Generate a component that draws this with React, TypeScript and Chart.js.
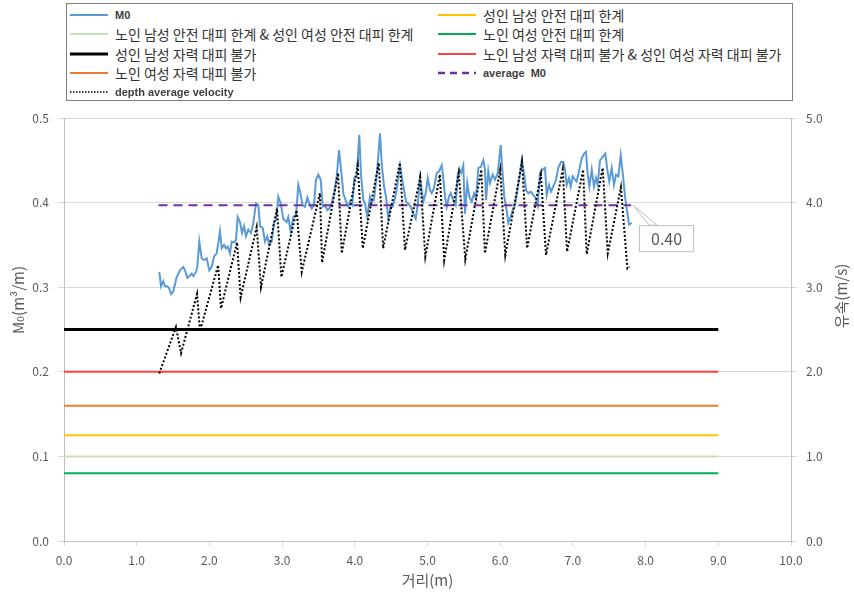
import React, { useEffect, useRef } from "react";
import { Chart, registerables } from "chart.js";
Chart.register(...registerables);

// ---------- data ----------
const SERIES_NAMES = [
  "M0",
  "성인 남성 안전 대피 한계",
  "노인 남성 안전 대피 한계 & 성인 여성 안전 대피 한계",
  "노인 여성 안전 대피 한계",
  "성인 남성 자력 대피 불가",
  "노인 남성 자력 대피 불가 & 성인 여성 자력 대피 불가",
  "노인 여성 자력 대피 불가",
  "average  M0",
  "depth average velocity",
];

// limit lines (series 1..6)
const LIMIT_VALUES = [0.125, 0.1, 0.08, 0.25, 0.2, 0.16];
const LIMIT_X = [0, 9];

const AVG_M0 = 0.397;
const AVG_X = [1.3, 7.8];

const M0_X = [
  1.311, 1.334, 1.366, 1.389, 1.421, 1.444, 1.472, 1.503, 1.55, 1.596, 1.641, 1.664, 1.696, 1.724, 1.757, 1.779,
  1.816, 1.834, 1.861, 1.894, 1.926, 1.963, 1.999, 2.032, 2.063, 2.1, 2.146, 2.169, 2.201, 2.228, 2.252, 2.283,
  2.307, 2.342, 2.366, 2.389, 2.421, 2.448, 2.476, 2.503, 2.535, 2.572, 2.604, 2.641, 2.673, 2.696, 2.733, 2.765,
  2.796, 2.824, 2.857, 2.889, 2.916, 2.948, 2.981, 3.016, 3.063, 3.085, 3.118, 3.154, 3.191, 3.223, 3.246, 3.283,
  3.315, 3.347, 3.374, 3.407, 3.439, 3.466, 3.498, 3.531, 3.558, 3.59, 3.622, 3.649, 3.682, 3.718, 3.751, 3.783,
  3.82, 3.842, 3.879, 3.911, 3.934, 3.966, 3.993, 4.026, 4.062, 4.085, 4.117, 4.14, 4.172, 4.209, 4.232, 4.264,
  4.292, 4.315, 4.347, 4.37, 4.402, 4.429, 4.461, 4.494, 4.521, 4.553, 4.585, 4.622, 4.645, 4.677, 4.704, 4.736,
  4.769, 4.805, 4.838, 4.865, 4.897, 4.92, 4.942, 4.975, 5.003, 5.034, 5.058, 5.089, 5.127, 5.158, 5.195, 5.217,
  5.241, 5.264, 5.296, 5.319, 5.355, 5.388, 5.415, 5.437, 5.461, 5.492, 5.516, 5.547, 5.575, 5.608, 5.64, 5.667,
  5.699, 5.732, 5.768, 5.791, 5.805, 5.836, 5.86, 5.897, 5.928, 5.966, 6.007, 6.034, 6.056, 6.089, 6.111, 6.144,
  6.172, 6.204, 6.227, 6.249, 6.272, 6.296, 6.327, 6.355, 6.387, 6.42, 6.455, 6.492, 6.516, 6.547, 6.585, 6.616,
  6.64, 6.671, 6.699, 6.73, 6.768, 6.799, 6.836, 6.868, 6.891, 6.915, 6.946, 6.97, 6.997, 7.029, 7.052, 7.088,
  7.121, 7.153, 7.18, 7.204, 7.226, 7.259, 7.29, 7.318, 7.341, 7.373, 7.41, 7.446, 7.473, 7.501, 7.534, 7.565,
  7.593, 7.625, 7.658, 7.685, 7.717, 7.74, 7.772, 7.809,
];
const M0_Y = [
  0.318, 0.301, 0.307, 0.301, 0.301, 0.299, 0.292, 0.295, 0.312, 0.32, 0.324, 0.32, 0.311, 0.313, 0.316, 0.313,
  0.318, 0.324, 0.354, 0.334, 0.332, 0.334, 0.32, 0.324, 0.336, 0.34, 0.366, 0.346, 0.35, 0.346, 0.348, 0.34,
  0.354, 0.353, 0.356, 0.383, 0.377, 0.364, 0.372, 0.36, 0.368, 0.364, 0.376, 0.399, 0.397, 0.372, 0.37, 0.354,
  0.36, 0.35, 0.354, 0.377, 0.379, 0.407, 0.399, 0.381, 0.377, 0.383, 0.366, 0.383, 0.385, 0.421, 0.413, 0.397,
  0.395, 0.406, 0.399, 0.393, 0.397, 0.427, 0.433, 0.427, 0.395, 0.397, 0.391, 0.393, 0.399, 0.413, 0.431, 0.462,
  0.431, 0.411, 0.401, 0.395, 0.401, 0.397, 0.429, 0.431, 0.48, 0.433, 0.403, 0.399, 0.383, 0.407, 0.401, 0.403,
  0.425, 0.446, 0.482, 0.446, 0.419, 0.407, 0.381, 0.395, 0.395, 0.405, 0.421, 0.444, 0.431, 0.415, 0.401, 0.399,
  0.395, 0.387, 0.381, 0.397, 0.429, 0.415, 0.401, 0.411, 0.429, 0.415, 0.411, 0.417, 0.435, 0.437, 0.444, 0.429,
  0.407, 0.395, 0.407, 0.411, 0.403, 0.397, 0.433, 0.439, 0.435, 0.444, 0.387, 0.423, 0.407, 0.401, 0.411, 0.405,
  0.441, 0.442, 0.45, 0.439, 0.403, 0.437, 0.423, 0.433, 0.427, 0.435, 0.468, 0.433, 0.407, 0.391, 0.376, 0.383,
  0.391, 0.397, 0.409, 0.421, 0.435, 0.45, 0.435, 0.415, 0.411, 0.413, 0.409, 0.405, 0.397, 0.435, 0.439, 0.441,
  0.409, 0.421, 0.413, 0.419, 0.427, 0.441, 0.448, 0.448, 0.439, 0.421, 0.429, 0.419, 0.431, 0.427, 0.425, 0.439,
  0.452, 0.458, 0.46, 0.433, 0.419, 0.439, 0.419, 0.429, 0.421, 0.45, 0.454, 0.458, 0.439, 0.425, 0.441, 0.421,
  0.433, 0.431, 0.456, 0.435, 0.407, 0.393, 0.374, 0.376,
];

const VEL_X = [
  1.31, 1.54, 1.61, 1.83, 1.87, 2.12, 2.16, 2.38, 2.43, 2.65, 2.71, 2.93, 2.99, 3.2, 3.27, 3.52, 3.55, 3.77, 3.82,
  4.04, 4.11, 4.33, 4.39, 4.62, 4.69, 4.9, 4.97, 5.17, 5.23, 5.43, 5.52, 5.74, 5.79, 6.0, 6.07, 6.3, 6.37, 6.56,
  6.63, 6.86, 6.92, 7.14, 7.19, 7.41, 7.48, 7.66, 7.75, 7.78,
];
const VEL_Y = [
  1.98, 2.53, 2.22, 2.92, 2.48, 3.26, 2.75, 3.53, 2.88, 3.71, 3.0, 3.93, 3.12, 3.91, 3.18, 4.11, 3.29, 4.35, 3.4,
  4.44, 3.46, 4.47, 3.46, 4.47, 3.44, 4.3, 3.36, 4.33, 3.32, 4.35, 3.33, 4.39, 3.4, 4.39, 3.38, 4.48, 3.46, 4.33,
  3.38, 4.39, 3.42, 4.39, 3.39, 4.41, 3.4, 4.18, 3.22, 3.24,
];

// ---------- styles ----------
const LIMIT_STYLE = [
  { color: "#ffc000", width: 2 },
  { color: "#c5e0b4", width: 2 },
  { color: "#00b050", width: 2 },
  { color: "#000000", width: 3 },
  { color: "#ff4040", width: 2 },
  { color: "#ed7d31", width: 2 },
];
const M0_COLOR = "#5b9bd5";
const AVG_COLOR = "#7030a0";
const VEL_COLOR = "#000000";
const TEXT = "#595959";
const FONT = '"Noto Sans CJK KR", "DejaVu Sans", sans-serif';

const zip = (xs: number[], ys: number[]) => xs.map((x, i) => ({ x, y: ys[i] }));

const overlayPlugin = {
  id: "overlay",
  afterDraw(chart: any) {
    const { ctx, scales } = chart;
    ctx.save();
    ctx.fillStyle = TEXT;
    ctx.font = `15px ${FONT}`;
    ctx.textAlign = "center";
    ctx.textBaseline = "middle";
    // left title
    ctx.save();
    ctx.translate(18, 300);
    ctx.rotate(-Math.PI / 2);
    ctx.fillText("M₀(m³/m)", 0, 0);
    ctx.restore();
    // right title
    ctx.save();
    ctx.translate(841, 296);
    ctx.rotate(-Math.PI / 2);
    ctx.fillText("유속(m/s)", 0, 0);
    ctx.restore();

    // callout for average
    const px = scales.x.getPixelForValue(AVG_X[1]);
    const py = scales.y.getPixelForValue(AVG_M0);
    const bx = px + 8;
    const by = py + 20;
    const bw = 54;
    const bh = 26;
    ctx.strokeStyle = "#bfbfbf";
    ctx.lineWidth = 1;
    ctx.fillStyle = "#ffffff";
    ctx.beginPath();
    ctx.moveTo(px + 2, py);
    ctx.lineTo(bx + 10, by);
    ctx.lineTo(bx + 18, by);
    ctx.closePath();
    ctx.fill();
    ctx.stroke();
    ctx.fillRect(bx, by, bw, bh);
    ctx.strokeRect(bx + 0.5, by + 0.5, bw, bh);
    ctx.fillStyle = TEXT;
    ctx.font = `16px ${FONT}`;
    ctx.fillText(AVG_M0.toFixed(2), bx + bw / 2 + 0.5, by + bh / 2 + 1);
    ctx.restore();
  },
};

function LegendSample({ idx }: { idx: number }) {
  let color = M0_COLOR;
  let width = 2;
  let dash = "";
  if (idx >= 1 && idx <= 6) {
    color = LIMIT_STYLE[idx - 1].color;
    width = LIMIT_STYLE[idx - 1].width;
  } else if (idx === 7) {
    color = AVG_COLOR;
    width = 2.5;
    dash = "7 5";
  } else if (idx === 8) {
    color = VEL_COLOR;
    width = 1.5;
    dash = "1.5 1.5";
  }
  return (
    <svg width={38} height={8} style={{ position: "absolute", left: 0, top: 6 }}>
      <line x1={0} y1={4} x2={38} y2={4} stroke={color} strokeWidth={width} strokeDasharray={dash || undefined} />
    </svg>
  );
}

function Legend() {
  return (
    <div
      style={{
        position: "absolute",
        left: 66,
        top: 3,
        width: 727,
        height: 98,
        border: "1px solid #7f7f7f",
        background: "#fff",
        boxSizing: "border-box",
      }}
    >
      {SERIES_NAMES.map((name, i) => {
        const col = i % 2;
        const row = Math.floor(i / 2);
        const latin = i === 0 || i >= 7;
        return (
          <div
            key={i}
            style={{
              position: "absolute",
              left: col === 0 ? 3 : 371,
              top: 1 + row * 19.3,
              height: 20,
              width: 360,
            }}
          >
            <LegendSample idx={i} />
            <span
              style={{
                position: "absolute",
                left: latin ? 45 : 45,
                top: 0,
                lineHeight: "20px",
                whiteSpace: "pre",
                fontFamily: latin ? '"Liberation Sans", Arial, sans-serif' : FONT,
                fontSize: latin ? 11 : 14,
                fontWeight: latin ? 700 : 400,
                color: latin ? "#404040" : "#333333",
              }}
            >
              {name}
            </span>
          </div>
        );
      })}
    </div>
  );
}

export default function App() {
  const ref = useRef<HTMLCanvasElement | null>(null);
  useEffect(() => {
    const prev = document.body.style.margin;
    document.body.style.margin = "0";
    const datasets: any[] = [];
    datasets.push({
      label: SERIES_NAMES[8],
      data: zip(VEL_X, VEL_Y),
      yAxisID: "y2",
      borderColor: VEL_COLOR,
      borderWidth: 2,
      borderDash: [2, 2],
      pointRadius: 0,
      tension: 0,
      order: 0,
    });
    datasets.push({
      label: SERIES_NAMES[7],
      data: zip(AVG_X, [AVG_M0, AVG_M0]),
      yAxisID: "y",
      borderColor: AVG_COLOR,
      borderWidth: 2,
      borderDash: [9, 6],
      pointRadius: 0,
      order: 1,
    });
    datasets.push({
      label: SERIES_NAMES[0],
      data: zip(M0_X, M0_Y),
      yAxisID: "y",
      borderColor: M0_COLOR,
      borderWidth: 2,
      pointRadius: 0,
      tension: 0,
      order: 2,
    });
    LIMIT_VALUES.forEach((v, i) => {
      datasets.push({
        label: SERIES_NAMES[i + 1],
        data: zip(LIMIT_X, [v, v]),
        yAxisID: "y",
        borderColor: LIMIT_STYLE[i].color,
        borderWidth: LIMIT_STYLE[i].width,
        pointRadius: 0,
        order: 3 + i,
      });
    });

    const tickFont = { family: FONT, size: 12 };
    const chart = new Chart(ref.current as HTMLCanvasElement, {
      type: "line",
      data: { datasets },
      options: {
        animation: false,
        responsive: false,
        maintainAspectRatio: false,
        layout: { padding: { top: 118, left: 0, right: 0, bottom: 0 } },
        plugins: { legend: { display: false }, tooltip: { enabled: false } },
        scales: {
          x: {
            type: "linear",
            min: 0,
            max: 10,
            ticks: {
              stepSize: 1,
              color: TEXT,
              font: tickFont,
              padding: 7,
              maxRotation: 0,
              callback: (v: any) => Number(v).toFixed(1),
            },
            grid: { drawOnChartArea: false, drawTicks: true, tickLength: 5, color: "#d9d9d9" },
            border: { color: "#bfbfbf" },
            title: {
              display: true,
              text: "거리(m)",
              color: TEXT,
              font: { family: FONT, size: 15 },
              padding: { top: 0, bottom: 7 },
            },
            afterFit: (s: any) => {
              s.height = 55;
            },
          },
          y: {
            type: "linear",
            position: "left",
            min: 0,
            max: 0.5,
            ticks: {
              stepSize: 0.1,
              color: TEXT,
              font: tickFont,
              padding: 9,
              callback: (v: any) => Number(v).toFixed(1),
            },
            grid: { color: "#d9d9d9", tickLength: 6 },
            border: { color: "#bfbfbf" },
            afterFit: (s: any) => {
              s.width = 64;
            },
          },
          y2: {
            type: "linear",
            position: "right",
            min: 0,
            max: 5,
            ticks: {
              stepSize: 1,
              color: TEXT,
              font: tickFont,
              padding: 9,
              callback: (v: any) => Number(v).toFixed(1),
            },
            grid: { drawOnChartArea: false, color: "#d9d9d9", tickLength: 6 },
            border: { color: "#bfbfbf" },
            afterFit: (s: any) => {
              s.width = 63;
            },
          },
        },
      } as any,
      plugins: [overlayPlugin],
    });
    return () => {
      chart.destroy();
      document.body.style.margin = prev;
    };
  }, []);

  return (
    <div style={{ position: "relative", width: 854, height: 596, background: "#fff" }}>
      <canvas ref={ref} width={854} height={596} style={{ position: "absolute", left: 0, top: 0 }} />
      <Legend />
    </div>
  );
}
